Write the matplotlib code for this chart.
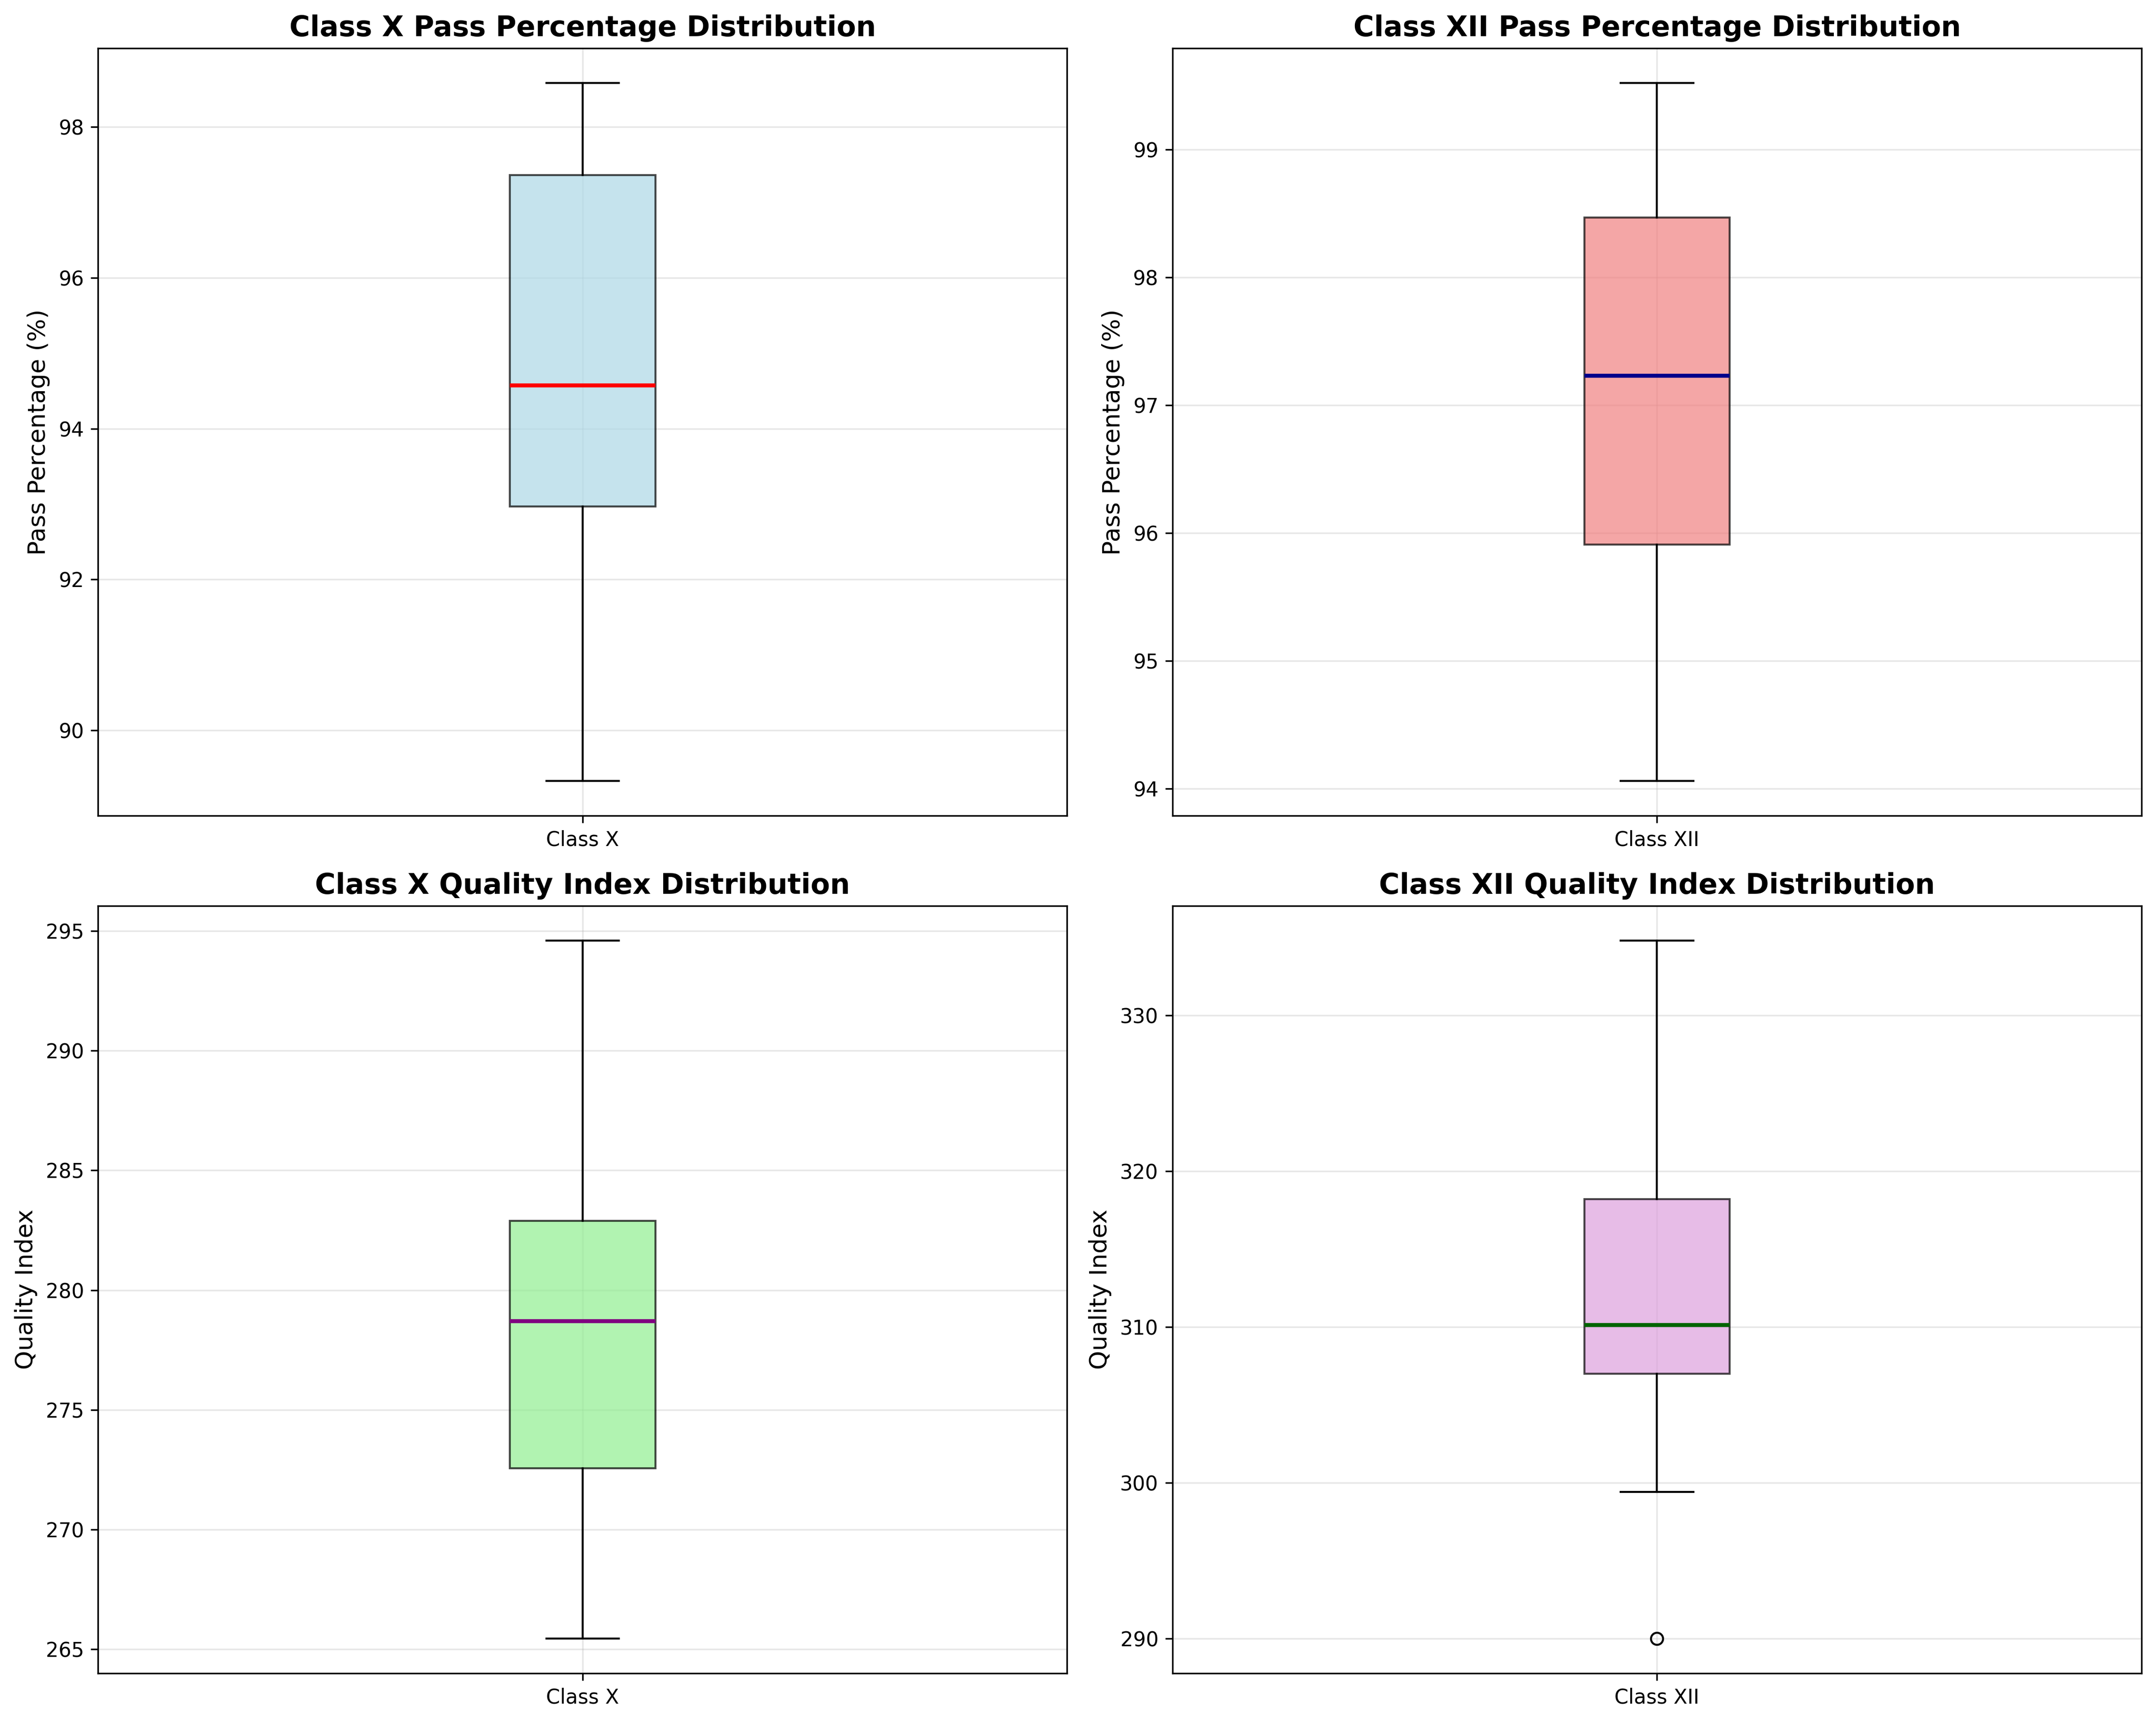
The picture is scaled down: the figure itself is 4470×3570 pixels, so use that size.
import matplotlib
matplotlib.use("Agg")
import matplotlib.pyplot as plt

# Box statistics: (whislo, q1, median, q3, whishi)
CLASS_X_PASS = [89.33, 92.97, 94.57, 97.36, 98.58]
CLASS_XII_PASS = [94.06, 95.91, 97.23, 98.47, 99.52]
CLASS_X_QUALITY = [265.46, 272.57, 278.7, 282.9, 294.6]
CLASS_XII_QUALITY = [299.4, 307.0, 310.1, 318.2, 334.8]
CLASS_XII_QUALITY_FLIERS = [290.0]

PANELS = [
    ("Class X", CLASS_X_PASS, [], "Class X Pass Percentage Distribution",
     "Pass Percentage (%)", "lightblue", "red"),
    ("Class XII", CLASS_XII_PASS, [], "Class XII Pass Percentage Distribution",
     "Pass Percentage (%)", "lightcoral", "darkblue"),
    ("Class X", CLASS_X_QUALITY, [], "Class X Quality Index Distribution",
     "Quality Index", "lightgreen", "purple"),
    ("Class XII", CLASS_XII_QUALITY, CLASS_XII_QUALITY_FLIERS,
     "Class XII Quality Index Distribution", "Quality Index", "plum", "darkgreen"),
]


def main():
    fig, axes = plt.subplots(2, 2, figsize=(15, 12), dpi=300)

    for ax, (label, s, fliers, title, ylabel, fill, med) in zip(axes.flat, PANELS):
        stats = [dict(label=label, whislo=s[0], q1=s[1], med=s[2], q3=s[3],
                      whishi=s[4], fliers=fliers)]
        bp = ax.bxp(stats, patch_artist=True, widths=0.15,
                    medianprops=dict(color=med, linewidth=2))
        for box in bp["boxes"]:
            box.set_facecolor(fill)
            box.set_alpha(0.7)
        ax.set_title(title, fontsize=14, fontweight="bold")
        ax.set_ylabel(ylabel, fontsize=12)
        ax.grid(True, alpha=0.3)

    plt.tight_layout()
    fig.savefig("out.png", bbox_inches="tight", facecolor="white")


if __name__ == "__main__":
    main()
